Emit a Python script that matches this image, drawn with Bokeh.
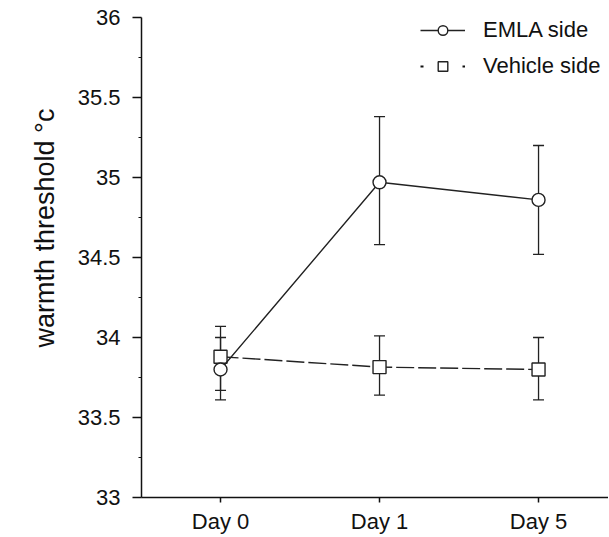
from bokeh.plotting import figure
from bokeh.models import FixedTicker, Legend, LegendItem, Whisker, ColumnDataSource, Title
from bokeh.embed import file_html
from bokeh.resources import INLINE

categories = ["Day 0", "Day 1", "Day 5"]
emla_mean = [33.80, 34.97, 34.86]
emla_upper = [34.00, 35.38, 35.20]
emla_lower = [33.61, 34.58, 34.52]
vehicle_mean = [33.88, 33.815, 33.80]
vehicle_upper = [34.07, 34.01, 34.00]
vehicle_lower = [33.67, 33.64, 33.61]
y_ticks = [33, 33.5, 34, 34.5, 35, 35.5, 36]
y_tick_labels = ["33", "33.5", "34", "34.5", "35", "35.5", "36"]
y_title = "warmth threshold °c"

xs = list(range(len(categories)))
FONT = "Liberation Sans"
INK = "#111111"

p = figure(width=608, height=536, output_backend="svg", toolbar_location=None,
           x_range=(-0.497, 2.44), y_range=(33, 36),
           min_border_left=141, min_border_right=0, min_border_top=17, min_border_bottom=38)
p.outline_line_color = None
p.xgrid.visible = False
p.ygrid.visible = False

src_e = ColumnDataSource(dict(x=xs, y=emla_mean, up=emla_upper, lo=emla_lower))
src_v = ColumnDataSource(dict(x=xs, y=vehicle_mean, up=vehicle_upper, lo=vehicle_lower))

for src in (src_v, src_e):
    w = Whisker(source=src, base="x", upper="up", lower="lo", line_color="#222222", line_width=1.3)
    for head in (w.upper_head, w.lower_head):
        head.size = 11
        head.line_color = "#222222"
        head.line_width = 1.3
    p.add_layout(w)

lv = p.line("x", "y", source=src_v, line_color="#222222", line_width=1.4, line_dash="18 4")
sv = p.scatter("x", "y", source=src_v, marker="square", size=13, fill_color="white",
               line_color="#222222", line_width=1.4)
le = p.line("x", "y", source=src_e, line_color="#222222", line_width=1.4)
se = p.scatter("x", "y", source=src_e, marker="circle", size=13, fill_color="white",
               line_color="#222222", line_width=1.4)
# single-point line (draws nothing in the plot) giving the dotted legend swatch
lv_key = p.line(x=xs[:1], y=vehicle_mean[:1], line_color="#111111", line_width=2, line_dash="3 18")

legend = Legend(items=[LegendItem(label="EMLA side", renderers=[le, se]),
                       LegendItem(label="Vehicle side", renderers=[lv_key, sv])],
                location=(275, 414), border_line_alpha=0, background_fill_alpha=0,
                glyph_width=45, glyph_height=24, label_height=24, spacing=10,
                label_standoff=18, padding=4,
                label_text_font=FONT, label_text_font_size="22px", label_text_color=INK)
p.add_layout(legend)

p.xaxis.ticker = FixedTicker(ticks=xs)
p.xaxis.major_label_overrides = {i: c for i, c in zip(xs, categories)}
p.xaxis.minor_tick_line_color = None
p.xaxis.major_tick_in = 0
p.xaxis.major_tick_out = 5
p.xaxis.major_label_standoff = 6
p.xaxis.major_label_text_font = FONT
p.xaxis.major_label_text_font_size = "22px"
p.xaxis.major_label_text_color = INK

p.yaxis.ticker = FixedTicker(ticks=y_ticks, minor_ticks=[33.25, 33.75, 34.25, 34.75, 35.25, 35.75])
p.yaxis.major_label_overrides = {t: l for t, l in zip(y_ticks, y_tick_labels)}
p.yaxis.major_tick_in = 0
p.yaxis.major_tick_out = 9
p.yaxis.minor_tick_in = 0
p.yaxis.minor_tick_out = 3
p.yaxis.major_label_standoff = 12
p.yaxis.major_label_text_font = FONT
p.yaxis.major_label_text_font_size = "22px"
p.yaxis.major_label_text_color = INK

for ax in (p.xaxis, p.yaxis):
    ax.axis_line_color = INK
    ax.axis_line_width = 1.5
    ax.major_tick_line_color = INK
    ax.major_tick_line_width = 1.5
    ax.minor_tick_line_color = INK

# y-axis title, sitting a little above the frame centre as in the reference
p.add_layout(Title(text=y_title, align="left", offset=150, standoff=30,
                   text_font=FONT, text_font_size="27px", text_font_style="normal",
                   text_color=INK), "left")

open("out.html", "w").write(file_html(p, INLINE))
